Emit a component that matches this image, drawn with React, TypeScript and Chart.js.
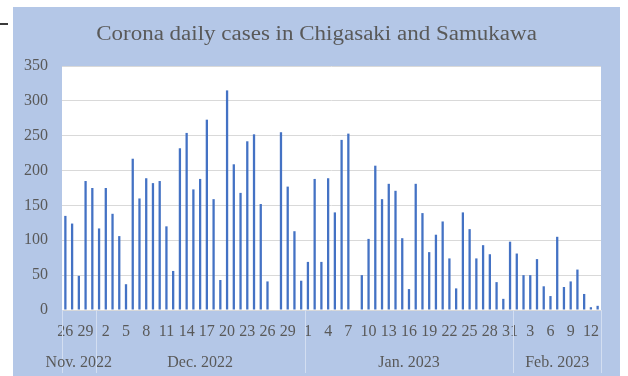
import React, { useEffect, useRef } from "react";
import { Chart, registerables } from "chart.js";

Chart.register(...registerables);

const TITLE = "Corona daily cases in Chigasaki and Samukawa";
const months = ["Nov. 2022", "Dec. 2022", "Jan. 2023", "Feb. 2023"];
const monthFirstDay = [26, 1, 1, 1];

const novCases = [135, 124, 49, 185, 175];
const decCases = [
  117, 175, 138, 106, 37, 217, 160, 189, 182, 185, 120, 56, 232, 254, 173, 188,
  273, 159, 43, 315, 209, 168, 242, 252, 152, 41, 0, 255, 177, 113, 42,
];
const janCases = [
  69, 188, 69, 189, 140, 244, 253, 0, 50, 102, 207, 159, 181, 171, 103, 30, 181,
  139, 83, 108, 127, 74, 31, 140, 116, 74, 93, 80, 40, 16, 98,
];
const febCases = [81, 50, 50, 73, 34, 20, 105, 33, 41, 58, 23, 4, 6];

const yMin = 0;
const yMax = 350;
const yStep = 50;
const tickEvery = 3;

const monthCases = [novCases, decCases, janCases, febCases];
const categories: string[] = [];
const values: number[] = [];
const monthOf: number[] = [];
monthCases.forEach((arr, m) =>
  arr.forEach((v, d) => {
    categories.push(String(monthFirstDay[m] + d));
    values.push(v);
    monthOf.push(m);
  })
);

const FONT = '"Liberation Serif", "Times New Roman", serif';
const TEXT = "#595959";

const decorPlugin = {
  id: "decor",
  beforeDraw(chart: any) {
    const { ctx, width, height, chartArea: a } = chart;
    ctx.save();
    ctx.fillStyle = "#B4C7E7";
    ctx.fillRect(0, 0, width, height);
    ctx.fillStyle = "#FFFFFF";
    ctx.fillRect(a.left, a.top, a.right - a.left, a.bottom - a.top);
    ctx.restore();
  },
  afterDraw(chart: any) {
    const { ctx, width, height, chartArea: a } = chart;
    const xs = chart.scales.x;
    ctx.save();
    ctx.fillStyle = TEXT;
    ctx.font = `20px ${FONT}`;
    ctx.textAlign = "center";
    ctx.textBaseline = "alphabetic";
    ctx.translate(width / 2, 33);
    ctx.scale(1.15, 1);
    ctx.fillText(TITLE, 0, 0);
    ctx.restore();

    ctx.save();
    const half = (xs.getPixelForValue(1) - xs.getPixelForValue(0)) / 2;
    ctx.strokeStyle = "#D3DEF1";
    ctx.lineWidth = 1;
    ctx.fillStyle = TEXT;
    ctx.font = `16px ${FONT}`;
    ctx.textAlign = "center";
    ctx.textBaseline = "alphabetic";
    months.forEach((name, m) => {
      const s = monthOf.indexOf(m);
      const e = monthOf.lastIndexOf(m);
      const left = xs.getPixelForValue(s) - half;
      const right = xs.getPixelForValue(e) + half;
      const lines = m === months.length - 1 ? [left, right] : [left];
      lines.forEach((lx) => {
        const px = Math.round(lx) + 0.5;
        ctx.beginPath();
        ctx.moveTo(px, a.bottom);
        ctx.lineTo(px, height - 3);
        ctx.stroke();
      });
      ctx.fillText(name, (left + right) / 2, a.bottom + 57);
    });
    ctx.restore();
  },
};

export default function App() {
  const ref = useRef<HTMLCanvasElement | null>(null);

  useEffect(() => {
    if (!ref.current) return;
    const chart = new Chart(ref.current, {
      type: "bar",
      data: {
        labels: categories,
        datasets: [
          {
            label: "Daily cases",
            data: values,
            backgroundColor: "#4472C4",
            borderWidth: 0,
            barPercentage: 0.34,
            categoryPercentage: 1,
          },
        ],
      },
      options: {
        responsive: false,
        animation: false,
        layout: { padding: { top: 59, right: 19, bottom: 22.8, left: 0 } },
        plugins: {
          legend: { display: false },
          title: { display: false, text: TITLE },
          tooltip: { enabled: false },
        },
        scales: {
          x: {
            grid: { display: false, drawTicks: false },
            border: { display: false },
            ticks: {
              autoSkip: false,
              maxRotation: 0,
              minRotation: 0,
              padding: 12,
              color: TEXT,
              font: { family: FONT, size: 16 },
              callback: (_v: any, i: number) =>
                i % tickEvery === 0 ? categories[i] : "",
            },
          },
          y: {
            min: yMin,
            max: yMax,
            ticks: {
              stepSize: yStep,
              padding: 14,
              color: TEXT,
              font: { family: FONT, size: 16 },
            },
            grid: { color: "#D9D9D9", drawTicks: false },
            border: { display: false },
            afterFit: (s: any) => {
              s.width = 49;
            },
          },
        },
      },
      plugins: [decorPlugin],
    });
    return () => chart.destroy();
  }, []);

  return (
    <div
      style={{
        position: "absolute",
        left: 0,
        top: 0,
        width: 628,
        height: 376,
        background: "#FFFFFF",
        overflow: "hidden",
      }}
    >
      <div
        style={{
          position: "absolute",
          left: 0,
          top: 23,
          width: 8,
          height: 2,
          background: "#3A3A3A",
        }}
      />
      <canvas
        ref={ref}
        width={607}
        height={369}
        style={{ position: "absolute", left: 13, top: 7, width: 607, height: 369 }}
      />
    </div>
  );
}
